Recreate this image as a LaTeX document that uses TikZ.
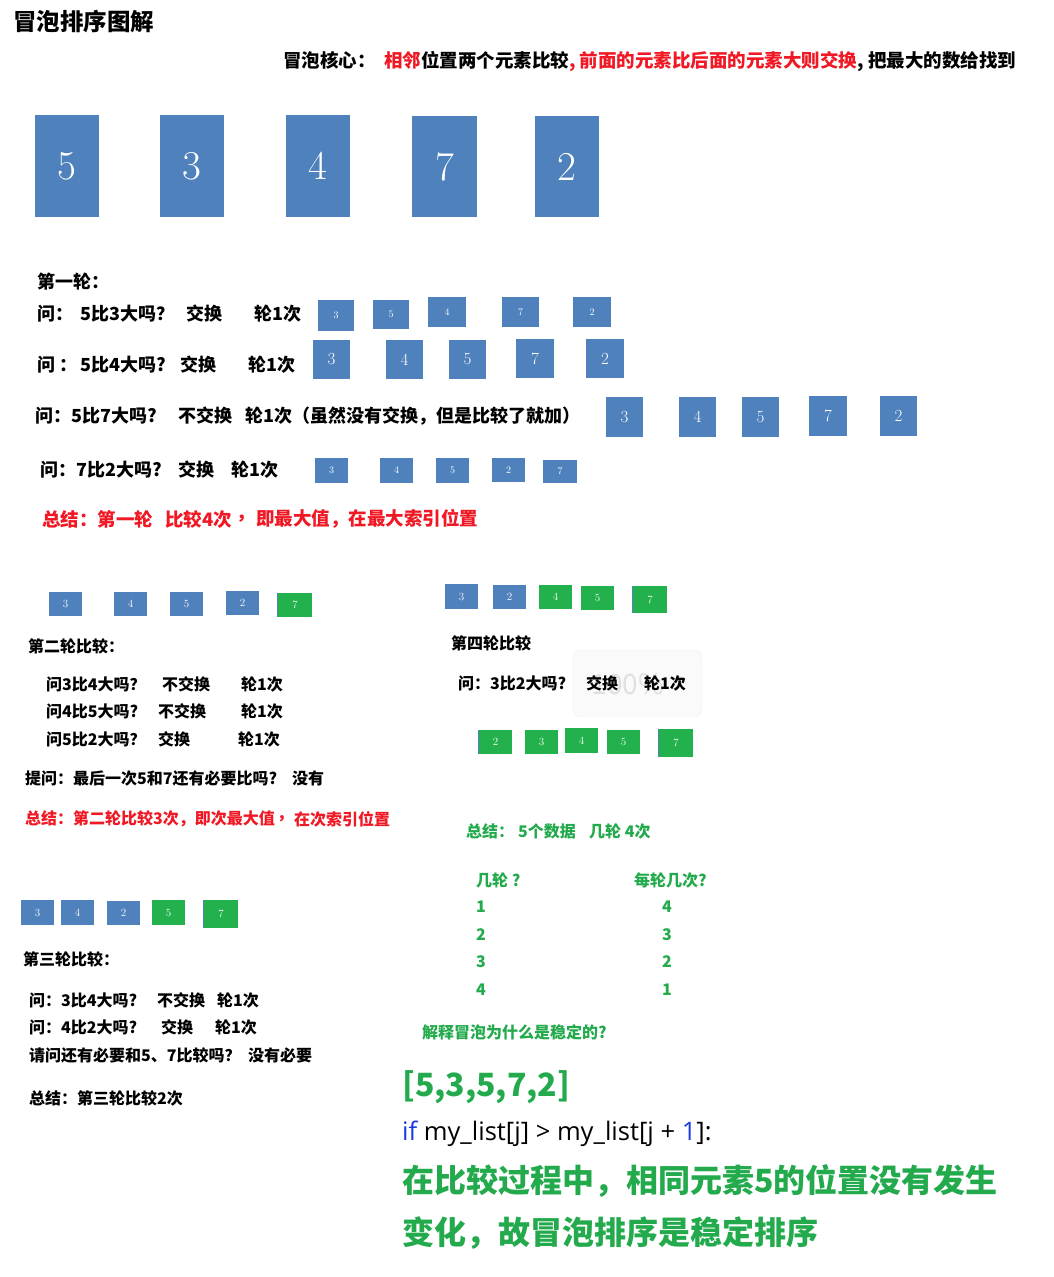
\documentclass[tikz,border=0pt]{standalone}
\usepackage{fontspec}
\newfontfamily\cjk{Noto Sans CJK SC}
\newfontfamily\codefont{Open Sans}
\newcommand\fs[1]{\fontsize{#1}{#1}\selectfont}
\definecolor{blueb}{RGB}{79,129,189}
\definecolor{greenb}{RGB}{34,177,76}
\definecolor{redt}{RGB}{240,24,36}
\definecolor{greent}{RGB}{34,170,76}
\definecolor{codeblue}{RGB}{25,60,225}
\begin{document}
\begin{tikzpicture}[x=1pt,y=-1pt,
  bx/.style={fill=blueb,text=white,inner sep=0pt},
  gx/.style={fill=greenb,text=white,inner sep=0pt},
  dL/.style={font=\fs{41}},
  dM/.style={font=\fs{17}},
  dS/.style={font=\fs{10}},
  dT/.style={font=\fs{11}},
  t/.style={anchor=west,inner sep=0pt},
  s24/.style={t,font=\cjk\bfseries\fs{23.5}},
  s18/.style={t,font=\cjk\bfseries\fs{18}},
  s16/.style={t,font=\cjk\bfseries\fs{16}},
  s32/.style={t,font=\cjk\bfseries\fs{32}}]
\useasboundingbox (0,0) rectangle (1054,1277);
\fill[white] (0,0) rectangle (1054,1277);

% ghost overlay
\draw[rounded corners=8pt, fill=black!2, draw=black!6] (573,650) rectangle (702,717);
\node[inner sep=0pt, text=black!12, font=\cjk\fs{28}] (ghost) at (628,684) {100\%};

% title and header
\node[s24] (title) at (13,22) {冒泡排序图解};
\node[s18,font=\cjk\bfseries\fs{18.5}] (head) at (283,62) {冒泡核心：\ \ {\color{redt}相邻}位置两个元素比较{\color{redt}, 前面的元素比后面的元素大则交换}, 把最大的数给找到};

% big boxes
\node[bx,dL,minimum width=64,minimum height=102] (B1) at (67,166) {5};
\node[bx,dL,minimum width=64,minimum height=102] (B2) at (192,166) {3};
\node[bx,dL,minimum width=64,minimum height=102] (B3) at (318,166) {4};
\node[bx,dL,minimum width=65,minimum height=101] (B4) at (444.5,166.5) {7};
\node[bx,dL,minimum width=64,minimum height=101] (B5) at (567,166.5) {2};

% round 1
\node[s18] (r1h) at (37,282) {第一轮：};
\node[s18] (q1a) at (37,314) {问：};
\node[s18] (q1b) at (80,314) {5比3大吗？};
\node[s18] (q1c) at (186,314) {交换};
\node[s18] (q1d) at (254,314) {轮1次};
\node[bx,dS,minimum width=36,minimum height=31] (a1) at (336,315.5) {3};
\node[bx,dS,minimum width=36,minimum height=29] (a2) at (391,314.5) {5};
\node[bx,dS,minimum width=38,minimum height=30] (a3) at (447,312) {4};
\node[bx,dS,minimum width=37,minimum height=30] (a4) at (520.5,312) {7};
\node[bx,dS,minimum width=38,minimum height=30] (a5) at (592,312) {2};

\node[s18] (q2a) at (37,365) {问 ：};
\node[s18] (q2b) at (80,365) {5比4大吗?};
\node[s18] (q2c) at (180,365) {交换};
\node[s18] (q2d) at (248,365) {轮1次};
\node[bx,dM,minimum width=37,minimum height=39] (b1) at (331.5,359.5) {3};
\node[bx,dM,minimum width=37,minimum height=39] (b2) at (404.5,359.5) {4};
\node[bx,dM,minimum width=37,minimum height=39] (b3) at (467.5,359.5) {5};
\node[bx,dM,minimum width=38,minimum height=39] (b4) at (535,358.5) {7};
\node[bx,dM,minimum width=38,minimum height=39] (b5) at (605,358.5) {2};

\node[s18] (q3a) at (35,416) {问：5比7大吗?};
\node[s18] (q3c) at (178,416) {不交换};
\node[s18] (q3d) at (245,416) {轮1次（虽然没有交换，但是比较了就加）};
\node[bx,dM,minimum width=37,minimum height=40] (c1) at (624.5,417) {3};
\node[bx,dM,minimum width=37,minimum height=40] (c2) at (697.5,417) {4};
\node[bx,dM,minimum width=37,minimum height=40] (c3) at (760.5,417) {5};
\node[bx,dM,minimum width=38,minimum height=40] (c4) at (828,416) {7};
\node[bx,dM,minimum width=37,minimum height=40] (c5) at (898.5,416) {2};

\node[s18] (q4a) at (40,470) {问：7比2大吗?};
\node[s18] (q4c) at (178,470) {交换};
\node[s18] (q4d) at (231,470) {轮1次};
\node[bx,dS,minimum width=33,minimum height=25] (d1) at (331.5,470.5) {3};
\node[bx,dS,minimum width=33,minimum height=25] (d2) at (396.5,470.5) {4};
\node[bx,dS,minimum width=33,minimum height=25] (d3) at (452.5,470.5) {5};
\node[bx,dS,minimum width=33,minimum height=24] (d4) at (508.5,470) {2};
\node[bx,dS,minimum width=34,minimum height=23] (d5) at (560,471.5) {7};

\node[s18,text=redt,font=\cjk\bfseries\fs{18.5}] (sum1a) at (42,519) {总结：第一轮};
\node[s18,text=redt,font=\cjk\bfseries\fs{18.5}] (sum1b) at (165,519) {比较4次};
\node[s18,text=redt,font=\cjk\bfseries\fs{18.5}] (sum1c) at (236,519) {，};
\node[s18,text=redt,font=\cjk\bfseries\fs{18.5}] (sum1d) at (256,519) {即最大值，在最大索引位置};

% round 2
\node[bx,dT,minimum width=33,minimum height=24] (e1) at (65.5,604) {3};
\node[bx,dT,minimum width=33,minimum height=24] (e2) at (130.5,604) {4};
\node[bx,dT,minimum width=33,minimum height=24] (e3) at (186.5,604) {5};
\node[bx,dT,minimum width=33,minimum height=24] (e4) at (242.5,603) {2};
\node[gx,dT,minimum width=34,minimum height=24] (e5) at (295,605) {7};
\draw[blueb,line width=1pt] (e5.north west) -- (e5.south west);

\node[s16] (r2h) at (28,646) {第二轮比较：};
\node[s16] (p1a) at (46,684) {问3比4大吗？};
\node[s16] (p1b) at (162,684) {不交换};
\node[s16] (p1c) at (241,684) {轮1次};
\node[s16] (p2a) at (46,711) {问4比5大吗?};
\node[s16] (p2b) at (158,711) {不交换};
\node[s16] (p2c) at (241,711) {轮1次};
\node[s16] (p3a) at (46,739) {问5比2大吗？};
\node[s16] (p3b) at (158,739) {交换};
\node[s16] (p3c) at (238,739) {轮1次};
\node[s16] (p4a) at (25,778) {提问：最后一次5和7还有必要比吗?};
\node[s16] (p4b) at (292,778) {没有};
\node[s16,text=redt] (sum2a) at (25,819) {总结：第二轮比较3次，即次最大值};
\node[s16,text=redt] (sum2b) at (277,819) {，};
\node[s16,text=redt] (sum2c) at (294,819) {在次索引位置};

% round 3
\node[bx,dT,minimum width=33,minimum height=25] (f1) at (37.5,912.5) {3};
\node[bx,dT,minimum width=33,minimum height=25] (f2) at (77.5,912.5) {4};
\node[bx,dT,minimum width=33,minimum height=24] (f3) at (123.5,913) {2};
\node[gx,dT,minimum width=33,minimum height=25] (f4) at (168.5,912.5) {5};
\node[gx,dT,minimum width=34,minimum height=28] (f5) at (221,914) {7};
\draw[blueb,line width=1pt] (f5.north west) -- (f5.south west);

\node[s16] (r3h) at (23,959) {第三轮比较：};
\node[s16] (g1a) at (29,1000) {问：3比4大吗?};
\node[s16] (g1b) at (157,1000) {不交换};
\node[s16] (g1c) at (217,1000) {轮1次};
\node[s16] (g2a) at (29,1027) {问：4比2大吗?};
\node[s16] (g2b) at (161,1027) {交换};
\node[s16] (g2c) at (215,1027) {轮1次};
\node[s16] (g3a) at (29,1055) {请问还有必要和5、7比较吗？};
\node[s16] (g3b) at (248,1055) {没有必要};
\node[s16] (sum3) at (29,1098) {总结：第三轮比较2次};

% round 4
\node[bx,dT,minimum width=33,minimum height=25] (h1) at (461.5,596.5) {3};
\node[bx,dT,minimum width=33,minimum height=24] (h2) at (509.5,597) {2};
\node[gx,dT,minimum width=33,minimum height=24] (h3) at (555.5,597) {4};
\node[gx,dT,minimum width=33,minimum height=24] (h4) at (597.5,598) {5};
\node[gx,dT,minimum width=34,minimum height=27] (h5) at (650,599.5) {7};
\draw[blueb,line width=1pt] (h5.north west) -- (h5.south west);

\node[s16] (r4h) at (451,643) {第四轮比较};
\node[s16] (k1a) at (458,683) {问：3比2大吗?};
\node[s16] (k1b) at (586,683) {交换};
\node[s16] (k1c) at (644,683) {轮1次};

\node[gx,dT,minimum width=33,minimum height=24] (m1) at (495.5,742) {2};
\draw[blueb,line width=1pt] (m1.north west) -- (m1.south west);
\node[gx,dT,minimum width=33,minimum height=24] (m2) at (541.5,742) {3};
\node[gx,dT,minimum width=33,minimum height=25] (m3) at (581.5,740.5) {4};
\node[gx,dT,minimum width=33,minimum height=24] (m4) at (623.5,742) {5};
\node[gx,dT,minimum width=34,minimum height=28] (m5) at (676,743) {7};
\draw[blueb,line width=1pt] (m5.north west) -- (m5.south west);

% green summary
\node[s16,text=greent] (gs1) at (466,831) {总结：};
\node[s16,text=greent] (gs2) at (518,831) {5个数据};
\node[s16,text=greent] (gs3) at (589,831) {几轮 4次};
\node[s16,text=greent] (th1) at (476,880) {几轮 ?};
\node[s16,text=greent] (th2) at (634,880) {每轮几次?};
\node[s16,text=greent] (n11) at (476,907) {1};
\node[s16,text=greent] (n12) at (476,935) {2};
\node[s16,text=greent] (n13) at (476,962) {3};
\node[s16,text=greent] (n14) at (476,990) {4};
\node[s16,text=greent] (n21) at (662,907) {4};
\node[s16,text=greent] (n22) at (662,935) {3};
\node[s16,text=greent] (n23) at (662,962) {2};
\node[s16,text=greent] (n24) at (662,990) {1};
\node[s16,text=greent] (why) at (422,1032) {解释冒泡为什么是稳定的?};

% bottom
\node[s32,text=greent] (arr) at (402,1087) {[5,3,5,7,2]};
\node[t,font=\codefont\fs{25.5}] (code) at (402,1134) {{\color{codeblue}if} my\_list[j] > my\_list[j + {\color{codeblue}1}]:};
\node[s32,text=greent] (concl1) at (402,1181) {在比较过程中，相同元素5的位置没有发生};
\node[s32,text=greent] (concl2) at (402,1233) {变化，故冒泡排序是稳定排序};
\end{tikzpicture}
\end{document}
